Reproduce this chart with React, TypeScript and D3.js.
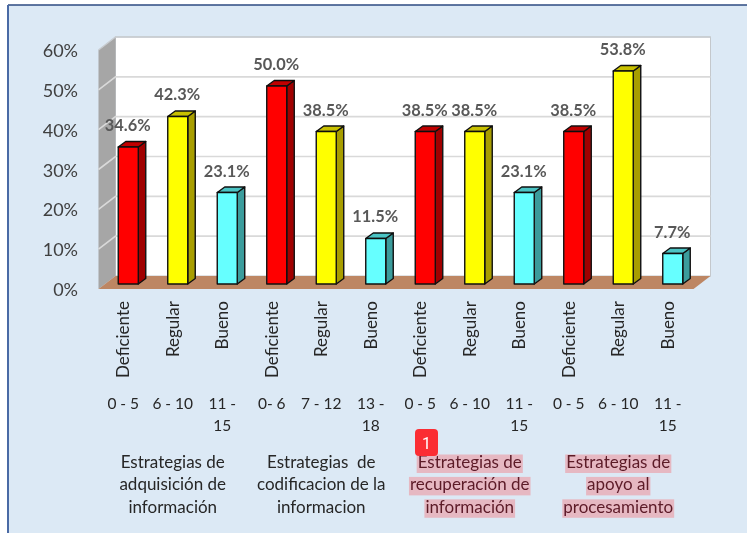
import { useEffect, useRef } from "react"
import * as d3 from "d3"

const levels = ["Deficiente", "Regular", "Bueno"]
const values = [34.6, 42.3, 23.1, 50.0, 38.5, 11.5, 38.5, 38.5, 23.1, 38.5, 53.8, 7.7]
const ranges = [
  ["0 - 5"], ["6 - 10"], ["11 -", "15"],
  ["0- 6"], ["7 - 12"], ["13 -", "18"],
  ["0 - 5"], ["6 - 10"], ["11 -", "15"],
  ["0 - 5"], ["6 - 10"], ["11 -", "15"],
]
const groups = [
  ["Estrategias de", "adquisición de", "información"],
  ["Estrategias  de", "codificacion de la", "informacion"],
  ["Estrategias de", "recuperación de", "información"],
  ["Estrategias de", "apoyo al", "procesamiento"],
]
const highlightedGroups = [2, 3]
const yTicks = [0, 10, 20, 30, 40, 50, 60]

const faceColors = ["#ff0000", "#ffff00", "#66ffff"]
const topColors = ["#c00000", "#c8c000", "#4cc4c4"]
const sideColors = ["#a00000", "#a89e00", "#3a9c9c"]

const FONT = "Lato, 'Open Sans', sans-serif"

export default function App() {
  const svgRef = useRef<SVGSVGElement>(null)

  useEffect(() => {
    if (!svgRef.current) return
    const root = d3.select(svgRef.current)
    root.selectAll("*").remove()

    // The source picture is a soft screenshot, keep the chart slightly blurred
    root
      .append("defs")
      .append("filter")
      .attr("id", "soft")
      .attr("filterUnits", "userSpaceOnUse")
      .attr("x", 0)
      .attr("y", 0)
      .attr("width", 747)
      .attr("height", 533)
      .append("feGaussianBlur")
      .attr("stdDeviation", 0.4)

    // Panel
    root.append("rect").attr("width", 747).attr("height", 533).attr("fill", "#ffffff")
    root.append("rect").attr("x", 8).attr("y", 5).attr("width", 739).attr("height", 528).attr("fill", "#dce9f5")
    root.append("line").attr("x1", 8).attr("x2", 747).attr("y1", 5).attr("y2", 5).attr("stroke", "#2d4a80").attr("stroke-width", 1.5)
    root.append("line").attr("x1", 8).attr("x2", 8).attr("y1", 5).attr("y2", 533).attr("stroke", "#4a6aa5").attr("stroke-width", 2)

    const svg = root.append("g").attr("filter", "url(#soft)")

    // Scales
    const dx = 17
    const dy = 13
    const xLeft = 98.5
    const xRight = 693.5
    const yBack = d3.scaleLinear().domain([0, 60]).range([276, 37])
    const yBar = d3.scaleLinear().domain([0, 60]).range([284, 46.4])
    const x = d3
      .scaleBand<number>()
      .domain(d3.range(values.length))
      .range([103.5, 103.5 + 49.5 * values.length])
    const barWidth = 20
    const barLeft = (i: number) => (x(i) as number) + (x.bandwidth() - barWidth) / 2
    const barCenter = (i: number) => barLeft(i) + barWidth / 2
    const labelCenter = (i: number) => barCenter(i) - 5

    // Back wall
    svg
      .append("rect")
      .attr("x", xLeft + dx)
      .attr("y", yBack(60))
      .attr("width", xRight - xLeft)
      .attr("height", yBack(0) - yBack(60))
      .attr("fill", "#ffffff")
      .attr("stroke", "#c4c8cc")
      .attr("stroke-width", 1)

    // Side wall
    svg
      .append("path")
      .attr("d", `M${xLeft},${yBack(60) + dy}L${xLeft + dx},${yBack(60)}L${xLeft + dx},${yBack(0)}L${xLeft},${yBack(0) + dy}Z`)
      .attr("fill", "#a6a6a6")

    // Grid lines across both walls
    yTicks.slice(1, -1).forEach((t) => {
      svg
        .append("path")
        .attr("d", `M${xLeft},${yBack(t) + dy}L${xLeft + dx},${yBack(t)}L${xRight + dx},${yBack(t)}`)
        .attr("fill", "none")
        .attr("stroke", "#d9d9d9")
        .attr("stroke-width", 1.6)
    })
    svg
      .append("path")
      .attr("d", `M${xLeft},${yBack(60) + dy}L${xLeft + dx},${yBack(60)}L${xRight + dx},${yBack(60)}`)
      .attr("fill", "none")
      .attr("stroke", "#c8ccd0")
      .attr("stroke-width", 1.4)

    // Floor
    svg
      .append("path")
      .attr("d", `M${xLeft},${yBack(0) + dy}L${xLeft + dx},${yBack(0)}L${xRight + dx},${yBack(0)}L${xRight},${yBack(0) + dy}Z`)
      .attr("fill", "#bd8663")

    // Y axis labels
    svg
      .append("g")
      .selectAll("text")
      .data(yTicks)
      .enter()
      .append("text")
      .attr("x", 78)
      .attr("y", (d) => yBack(d) + dy + 7)
      .attr("text-anchor", "end")
      .attr("fill", "#404040")
      .style("font-family", FONT)
      .style("font-size", "18px")
      .text((d) => `${d}%`)

    // Bars
    const depthX = 7.5
    const depthY = 5.5
    values.forEach((v, i) => {
      const level = i % levels.length
      const l = barLeft(i)
      const r = l + barWidth
      const t = yBar(v)
      const b = yBar(0)
      const g = svg.append("g").attr("stroke", "#111111").attr("stroke-width", 1.4).attr("stroke-linejoin", "round")
      g.append("path")
        .attr("d", `M${r},${t}L${r + depthX},${t - depthY}L${r + depthX},${b - depthY}L${r},${b}Z`)
        .attr("fill", sideColors[level])
      g.append("path")
        .attr("d", `M${l},${t}L${l + depthX},${t - depthY}L${r + depthX},${t - depthY}L${r},${t}Z`)
        .attr("fill", topColors[level])
      g.append("rect")
        .attr("x", l)
        .attr("y", t)
        .attr("width", barWidth)
        .attr("height", b - t)
        .attr("fill", faceColors[level])
    })

    // Value labels
    svg
      .append("g")
      .selectAll("text")
      .data(values)
      .enter()
      .append("text")
      .attr("x", (_, i) => barCenter(i) - 0.5)
      .attr("y", (d) => yBar(d) - 16)
      .attr("text-anchor", "middle")
      .attr("fill", "#595959")
      .style("font-family", FONT)
      .style("font-size", "16.4px")
      .style("font-weight", 700)
      .text((d) => `${d.toFixed(1)}%`)

    // Level labels (rotated)
    values.forEach((_, i) => {
      svg
        .append("text")
        .attr("transform", `translate(${labelCenter(i) + 6},301) rotate(-90)`)
        .attr("text-anchor", "end")
        .attr("fill", "#262626")
        .style("font-family", FONT)
        .style("font-size", "17px")
        .text(levels[i % levels.length])
    })

    // Score ranges
    ranges.forEach((lines, i) => {
      lines.forEach((line, j) => {
        svg
          .append("text")
          .attr("x", labelCenter(i))
          .attr("y", 409 + j * 22)
          .attr("text-anchor", "middle")
          .attr("fill", "#262626")
          .style("font-family", FONT)
          .style("font-size", "15.5px")
          .style("white-space", "pre")
          .text(line)
      })
    })

    // Group labels, two of them highlighted
    groups.forEach((lines, k) => {
      const cx = labelCenter(k * 3 + 1)
      const marked = highlightedGroups.includes(k)
      lines.forEach((line, j) => {
        const y = 468 + j * 22.4
        const text = svg
          .append("text")
          .attr("x", cx)
          .attr("y", y)
          .attr("text-anchor", "middle")
          .attr("fill", marked ? "#5c1a28" : "#262626")
          .style("font-family", FONT)
          .style("font-size", "17px")
          .style("white-space", "pre")
          .text(line)
        if (marked) {
          const w = (text.node() as SVGTextElement).getComputedTextLength()
          svg
            .insert("rect", () => text.node())
            .attr("x", cx - w / 2 - 1)
            .attr("y", y - 13.5)
            .attr("width", w + 2)
            .attr("height", 18.5)
            .attr("fill", "#e6b8c2")
        }
      })
    })

    // Badge
    const badge = root.append("g").attr("transform", "translate(415,429)")
    badge.append("rect").attr("width", 23).attr("height", 27).attr("rx", 4).attr("fill", "#fb2d33")
    badge
      .append("text")
      .attr("x", 11.5)
      .attr("y", 19.5)
      .attr("text-anchor", "middle")
      .attr("fill", "#ffffff")
      .style("font-family", "Roboto, sans-serif")
      .style("font-size", "16px")
      .text("1")
  }, [])

  return (
    <svg
      ref={svgRef}
      width={747}
      height={533}
      style={{ position: "absolute", left: 0, top: 0, display: "block" }}
    />
  )
}
